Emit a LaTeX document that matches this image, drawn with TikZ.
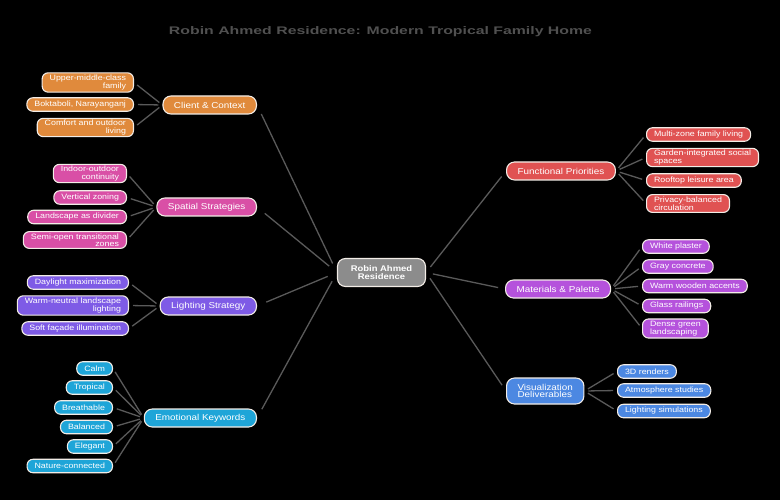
\documentclass[tikz,border=0pt]{standalone}
\usepackage{fontspec}
\usepackage{graphicx}
\setmainfont{Liberation Sans}[FakeStretch=1.15]
\definecolor{corange}{HTML}{E08A3C}
\definecolor{cpink}{HTML}{D94FA6}
\definecolor{clight}{HTML}{7E5BE6}
\definecolor{ccyan}{HTML}{1EA5D8}
\definecolor{cred}{HTML}{E05252}
\definecolor{cviolet}{HTML}{B552DC}
\definecolor{cblue}{HTML}{4C88E2}
\definecolor{cgray}{HTML}{8C8C8C}
\definecolor{linkgray}{HTML}{5A5A5A}
\definecolor{titlegray}{HTML}{505050}
\definecolor{bordercol}{HTML}{F2ECE6}
\begin{document}
\begin{tikzpicture}[x=1pt,y=-1pt,
  base/.style={draw=bordercol, line width=1.1pt, text=white},
  cat/.style={base, rounded corners=8pt, minimum height=18pt, inner xsep=11pt, inner ysep=2pt,
    font=\fontsize{8.6}{7.7}\selectfont},
  lcat/.style={cat, anchor=east},
  rcat/.style={cat, anchor=west, align=left},
  leaf/.style={base, rounded corners=6pt, minimum height=13.5pt, inner xsep=7.5pt, inner ysep=2pt,
    font=\fontsize{7.7}{7.1}\selectfont},
  lleaf/.style={leaf, anchor=east, align=right},
  rleaf/.style={leaf, anchor=west, align=left},
  link/.style={draw=linkgray, line width=1.3pt, shorten <=4pt, shorten >=4pt},
  llink/.style={draw=linkgray, line width=1.3pt, shorten <=10pt, shorten >=10pt},
  rlink/.style={draw=linkgray, line width=1.3pt, shorten <=7pt, shorten >=7pt}
]
\fill[black] (0,0) rectangle (780,500);
\useasboundingbox (0,0) rectangle (780,500);

% title
\node (title) at (380.5,32) {\color{titlegray}\resizebox{423pt}{\height}{\bfseries\fontsize{11}{13}\selectfont Robin Ahmed Residence: Modern Tropical Family Home}};

% center
\node[base, fill=cgray, rounded corners=8pt, minimum width=88pt, minimum height=28pt, align=center,
  font=\bfseries\fontsize{8.2}{7.7}\selectfont] (center) at (381.5,272.5) {Robin Ahmed\\Residence};

% categories
\node[lcat, fill=corange] (client) at (257,105) {Client \& Context};
\node[lcat, fill=cpink] (spatial) at (257,207) {Spatial Strategies};
\node[lcat, fill=clight] (lighting) at (257,306) {Lighting Strategy};
\node[lcat, fill=ccyan] (emotional) at (257,418) {Emotional Keywords};
\node[rcat, fill=cred] (functional) at (506,171) {Functional Priorities};
\node[rcat, fill=cviolet] (materials) at (505,289) {Materials \& Palette};
\node[rcat, fill=cblue, minimum height=26pt] (viz) at (506,391) {Visualization\\Deliverables};

% client leaves
\node[lleaf, fill=corange] (c1) at (134,82.5) {Upper-middle-class\\family};
\node[lleaf, fill=corange] (c2) at (134,104.5) {Boktaboli, Narayanganj};
\node[lleaf, fill=corange] (c3) at (134,127.5) {Comfort and outdoor\\living};

% spatial leaves
\node[lleaf, fill=cpink] (s1) at (127,173.5) {Indoor-outdoor\\continuity};
\node[lleaf, fill=cpink] (s2) at (127,197.5) {Vertical zoning};
\node[lleaf, fill=cpink] (s3) at (127,217) {Landscape as divider};
\node[lleaf, fill=cpink] (s4) at (127,240) {Semi-open transitional\\zones};

% lighting leaves
\node[lleaf, fill=clight] (l1) at (129,282.5) {Daylight maximization};
\node[lleaf, fill=clight] (l2) at (129,305.5) {Warm-neutral landscape\\lighting};
\node[lleaf, fill=clight] (l3) at (129,328.5) {Soft façade illumination};

% emotional leaves
\node[lleaf, fill=ccyan] (e1) at (113,368.5) {Calm};
\node[lleaf, fill=ccyan] (e2) at (113,387.5) {Tropical};
\node[lleaf, fill=ccyan] (e3) at (113,407.5) {Breathable};
\node[lleaf, fill=ccyan] (e4) at (113,427) {Balanced};
\node[lleaf, fill=ccyan] (e5) at (113,446.5) {Elegant};
\node[lleaf, fill=ccyan] (e6) at (113,466) {Nature-connected};

% functional leaves
\node[rleaf, fill=cred] (f1) at (646,134.5) {Multi-zone family living};
\node[rleaf, fill=cred] (f2) at (646,157.5) {Garden-integrated social\\spaces};
\node[rleaf, fill=cred] (f3) at (646,180.5) {Rooftop leisure area};
\node[rleaf, fill=cred] (f4) at (646,203.5) {Privacy-balanced\\circulation};

% materials leaves
\node[rleaf, fill=cviolet] (m1) at (642,246.5) {White plaster};
\node[rleaf, fill=cviolet] (m2) at (642,266.5) {Gray concrete};
\node[rleaf, fill=cviolet] (m3) at (642,286) {Warm wooden accents};
\node[rleaf, fill=cviolet] (m4) at (642,306) {Glass railings};
\node[rleaf, fill=cviolet] (m5) at (642,328.5) {Dense green\\landscaping};

% viz leaves
\node[rleaf, fill=cblue] (v1) at (617,371.5) {3D renders};
\node[rleaf, fill=cblue] (v2) at (617,390.5) {Atmosphere studies};
\node[rleaf, fill=cblue] (v3) at (617,411) {Lighting simulations};

% connectors center-category
\begin{scope}[on background layer/.try]
\end{scope}
\draw[llink] (client.east) -- (center.west);
\draw[llink] (spatial.east) -- (center.west);
\draw[llink] (lighting.east) -- (center.west);
\draw[llink] (emotional.east) -- (center.west);
\draw[rlink] (center.east) -- (functional.west);
\draw[rlink] (center.east) -- (materials.west);
\draw[rlink] (center.east) -- (viz.west);

% connectors category-leaf
\foreach \n in {c1,c2,c3} \draw[link] (\n.east) -- (client.west);
\foreach \n in {s1,s2,s3,s4} \draw[link] (\n.east) -- (spatial.west);
\foreach \n in {l1,l2,l3} \draw[link] (\n.east) -- (lighting.west);
\foreach \n in {e1,e2,e3,e4,e5,e6} \draw[link] (\n.east) -- (emotional.west);
\foreach \n in {f1,f2,f3,f4} \draw[link] (functional.east) -- (\n.west);
\foreach \n in {m1,m2,m3,m4,m5} \draw[link] (materials.east) -- (\n.west);
\foreach \n in {v1,v2,v3} \draw[link] (viz.east) -- (\n.west);
\end{tikzpicture}
\end{document}
